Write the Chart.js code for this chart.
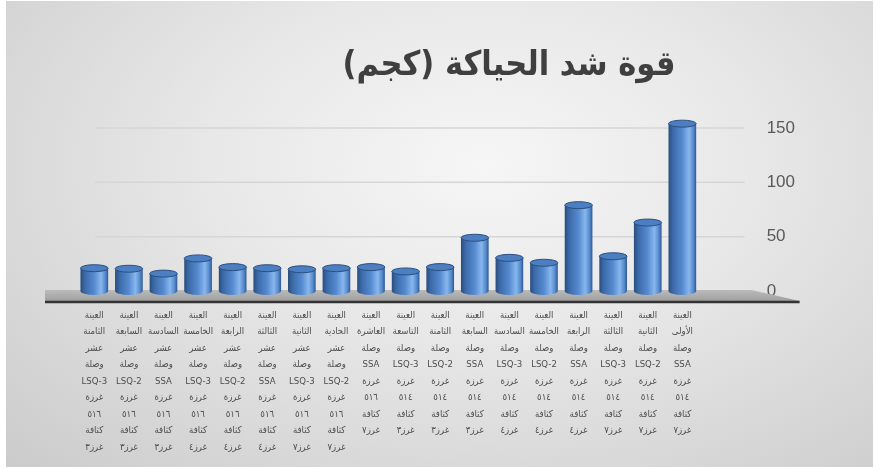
<!DOCTYPE html>
<html>
<head>
<meta charset="utf-8">
<script src="https://cdn.jsdelivr.net/npm/chart.js@4/dist/chart.umd.min.js"></script>
<style>
  html, body { margin: 0; padding: 0; background: #fff; }
  #bg {
    position: absolute; left: 6px; top: 1px; width: 867px; height: 466px;
    background: radial-gradient(ellipse at 55% 35%, #f6f6f6 0%, #e8e8e8 40%, #cbcbcb 100%);
  }
  #wrap { position: absolute; left: 0; top: 0; width: 874px; height: 469px; }
</style>
</head>
<body>
<div id="bg"></div>
<div id="wrap"><canvas id="myChart" width="874" height="469"></canvas></div>
<script>
const title = 'قوة شد الحياكة (كجم)';

const labels = [
  ['العينة', 'الأولى', 'وصلة', 'SSA', 'غرزة', '٥١٤', 'كثافة', 'غرز٧'],
  ['العينة', 'الثانية', 'وصلة', 'LSQ-2', 'غرزة', '٥١٤', 'كثافة', 'غرز٧'],
  ['العينة', 'الثالثة', 'وصلة', 'LSQ-3', 'غرزة', '٥١٤', 'كثافة', 'غرز٧'],
  ['العينة', 'الرابعة', 'وصلة', 'SSA', 'غرزة', '٥١٤', 'كثافة', 'غرز٤'],
  ['العينة', 'الخامسة', 'وصلة', 'LSQ-2', 'غرزة', '٥١٤', 'كثافة', 'غرز٤'],
  ['العينة', 'السادسة', 'وصلة', 'LSQ-3', 'غرزة', '٥١٤', 'كثافة', 'غرز٤'],
  ['العينة', 'السابعة', 'وصلة', 'SSA', 'غرزة', '٥١٤', 'كثافة', 'غرز٣'],
  ['العينة', 'الثامنة', 'وصلة', 'LSQ-2', 'غرزة', '٥١٤', 'كثافة', 'غرز٣'],
  ['العينة', 'التاسعة', 'وصلة', 'LSQ-3', 'غرزة', '٥١٤', 'كثافة', 'غرز٣'],
  ['العينة', 'العاشرة', 'وصلة', 'SSA', 'غرزة', '٥١٦', 'كثافة', 'غرز٧'],
  ['العينة', 'الحادية', 'عشر', 'وصلة', 'LSQ-2', 'غرزة', '٥١٦', 'كثافة', 'غرز٧'],
  ['العينة', 'الثانية', 'عشر', 'وصلة', 'LSQ-3', 'غرزة', '٥١٦', 'كثافة', 'غرز٧'],
  ['العينة', 'الثالثة', 'عشر', 'وصلة', 'SSA', 'غرزة', '٥١٦', 'كثافة', 'غرز٤'],
  ['العينة', 'الرابعة', 'عشر', 'وصلة', 'LSQ-2', 'غرزة', '٥١٦', 'كثافة', 'غرز٤'],
  ['العينة', 'الخامسة', 'عشر', 'وصلة', 'LSQ-3', 'غرزة', '٥١٦', 'كثافة', 'غرز٤'],
  ['العينة', 'السادسة', 'عشر', 'وصلة', 'SSA', 'غرزة', '٥١٦', 'كثافة', 'غرز٣'],
  ['العينة', 'السابعة', 'عشر', 'وصلة', 'LSQ-2', 'غرزة', '٥١٦', 'كثافة', 'غرز٣'],
  ['العينة', 'الثامنة', 'عشر', 'وصلة', 'LSQ-3', 'غرزة', '٥١٦', 'كثافة', 'غرز٣']
];

const strength = [154, 63, 32, 79, 26, 30.5, 49, 22, 18, 22, 21, 20, 21, 22, 30, 16, 20.5, 21];

const yTicks = [0, 50, 100, 150];

// horizontal shading across each cylinder
function barFill(ctx) {
  const chart = ctx.chart;
  const xs = chart.scales.x;
  if (!chart.chartArea || !xs) return '#4f81bd';
  const cx = xs.getPixelForValue(ctx.dataIndex);
  const w = (xs.width / labels.length) * 0.8;
  const g = chart.ctx.createLinearGradient(cx - w / 2, 0, cx + w / 2, 0);
  g.addColorStop(0, '#2a4c7a');
  g.addColorStop(0.15, '#3a69a8');
  g.addColorStop(0.5, '#568bd0');
  g.addColorStop(0.74, '#88b7ee');
  g.addColorStop(0.9, '#568acd');
  g.addColorStop(1, '#2b5891');
  return g;
}

const backdrop = {
  id: 'backdrop',
  beforeDatasetsDraw(chart) {
    const { ctx, chartArea } = chart;
    const ys = chart.scales.y;
    const y0 = ys.getPixelForValue(0);
    const L = chartArea.left, R = chartArea.right;
    ctx.save();
    // back wall gridlines
    ctx.strokeStyle = '#d6d6d6';
    ctx.lineWidth = 1.5;
    yTicks.slice(1).forEach(v => {
      const y = ys.getPixelForValue(v);
      ctx.beginPath();
      ctx.moveTo(L + 18, y);
      ctx.lineTo(R + 45, y);
      ctx.stroke();
    });
    // floor
    const fg = ctx.createLinearGradient(0, y0 - 2, 0, y0 + 10);
    fg.addColorStop(0, '#bdbdbd');
    fg.addColorStop(1, '#9f9f9f');
    ctx.fillStyle = fg;
    ctx.beginPath();
    ctx.moveTo(L - 32, y0 - 1);
    ctx.lineTo(R + 52, y0 - 1);
    ctx.lineTo(R + 100, y0 + 10);
    ctx.lineTo(L - 32, y0 + 10);
    ctx.closePath();
    ctx.fill();
    ctx.strokeStyle = '#333';
    ctx.lineWidth = 2.5;
    ctx.beginPath();
    ctx.moveTo(L - 32, y0 + 11);
    ctx.lineTo(R + 100, y0 + 11);
    ctx.stroke();
    ctx.restore();
  },
  afterDatasetsDraw(chart) {
    const ctx = chart.ctx;
    const meta = chart.getDatasetMeta(0);
    ctx.save();
    meta.data.forEach((el, i) => {
      const p = el.getProps(['x', 'y', 'base', 'width'], true);
      const r = p.width / 2;
      // rounded bottom
      ctx.fillStyle = barFill({ chart, dataIndex: i });
      ctx.beginPath();
      ctx.ellipse(p.x, p.base, r, 4, 0, 0, Math.PI);
      ctx.fill();
      // top cap
      ctx.fillStyle = '#4c7ec2';
      ctx.strokeStyle = '#2c4f7e';
      ctx.lineWidth = 1;
      ctx.beginPath();
      ctx.ellipse(p.x, p.y, r, 3.5, 0, 0, Math.PI * 2);
      ctx.fill();
      ctx.stroke();
    });
    // title
    ctx.direction = 'rtl';
    ctx.textAlign = 'center';
    ctx.textBaseline = 'middle';
    ctx.fillStyle = '#3f3f3f';
    ctx.font = 'bold 34px "DejaVu Sans Condensed", "DejaVu Sans", sans-serif';
    ctx.fillText(title, 509, 66);
    ctx.restore();
  }
};

const ctx = document.getElementById('myChart').getContext('2d');
const myChart = new Chart(ctx, {
  type: 'bar',
  data: {
    labels: labels,
    datasets: [{
      label: title,
      data: strength,
      backgroundColor: barFill,
      borderWidth: 0,
      categoryPercentage: 1,
      barPercentage: 0.8,
      clip: false
    }]
  },
  options: {
    responsive: false,
    animation: false,
    layout: { padding: { left: 77, right: 12, top: 128, bottom: 15 } },
    plugins: {
      legend: { display: false },
      tooltip: { enabled: false }
    },
    scales: {
      x: {
        reverse: true,
        grid: { display: false, drawTicks: false },
        border: { display: false },
        ticks: {
          autoSkip: false,
          maxRotation: 0,
          minRotation: 0,
          padding: 16,
          color: '#4d4d4d',
          font: { family: '"DejaVu Sans Condensed", "DejaVu Sans", sans-serif', size: 9.5, lineHeight: 1.74 }
        }
      },
      y: {
        position: 'right',
        min: 0,
        max: 150,
        grid: { display: false, drawTicks: false },
        border: { display: false },
        afterBuildTicks: axis => { axis.ticks = yTicks.map(v => ({ value: v })); },
        ticks: {
          padding: 67,
          color: '#595959',
          font: { family: '"Liberation Sans", sans-serif', size: 17 }
        }
      }
    }
  },
  plugins: [backdrop]
});
</script>
</body>
</html>
